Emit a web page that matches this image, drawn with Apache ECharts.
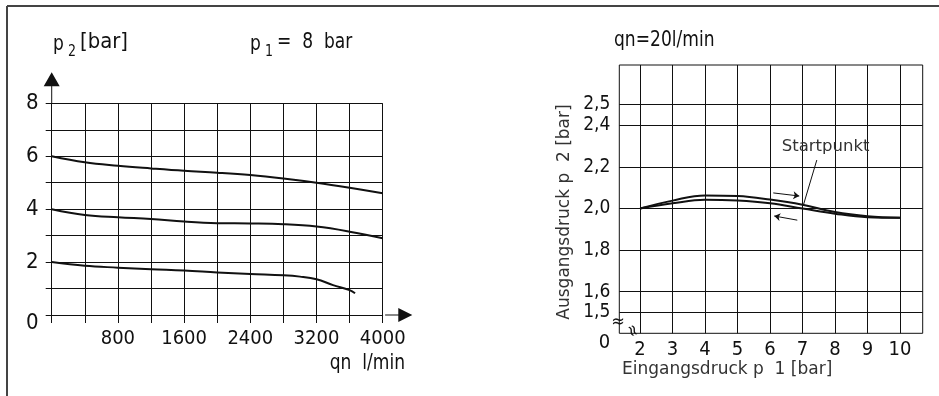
<!DOCTYPE html>
<html>
<head>
<meta charset="utf-8">
<script src="https://cdn.jsdelivr.net/npm/echarts@6/dist/echarts.min.js"></script>
<style>
  html, body { margin: 0; padding: 0; background: #fff; }
  #chart { width: 939px; height: 396px; }
</style>
</head>
<body>
<div id="chart"></div>
<script>
// left: p2 over flow at p1 = 8 bar
const qn = [0, 400, 800, 1200, 1600, 2000, 2400, 2800, 3200, 3600, 4000];
const p2Upper = [6.0, 5.77, 5.64, 5.54, 5.45, 5.38, 5.29, 5.16, 5.0, 4.81, 4.6];
const p2Middle = [4.0, 3.78, 3.69, 3.63, 3.53, 3.47, 3.46, 3.43, 3.34, 3.15, 2.9];
const qnLower = [0, 400, 800, 1200, 1600, 2000, 2400, 2800, 3000, 3200, 3400, 3600, 3666];
const p2Lower = [2.0, 1.86, 1.79, 1.73, 1.68, 1.61, 1.55, 1.5, 1.45, 1.35, 1.13, 0.94, 0.82];

// right: p2 over p1 at qn = 20 l/min
const p1 = [2, 3, 4, 5, 6, 7, 8, 9, 10];
const p2Rise = [2.0, 2.038, 2.063, 2.06, 2.043, 2.018, 1.983, 1.963, 1.955];
const p2Fall = [2.0, 2.025, 2.042, 2.038, 2.025, 2.0, 1.975, 1.958, 1.955];
const p1Ticks = [2, 3, 4, 5, 6, 7, 8, 9, 10];
const p2Ticks = [1.5, 1.6, 1.8, 2.0, 2.2, 2.4, 2.5];

// annotations (data space of right chart)
const riseArrow = [[6.1, 2.075], [6.9, 2.06]];
const fallArrow = [[6.84, 1.944], [6.13, 1.964]];
const startLeader = [[7.44, 2.233], [7.02, 2.013]];
const startLabelAt = [7.71, 2.297];

const narrow = "'DejaVu Sans Condensed', 'Liberation Sans Narrow', sans-serif";
const wide = "'DejaVu Sans', Verdana, sans-serif";
const ink = '#111';

const xs = (a, b) => a.map((v, i) => [v, b[i]]);
const line = (x, y, xi, yi) => ({
    type: 'line', data: xs(x, y), xAxisIndex: xi, yAxisIndex: yi,
    smooth: 0.4, symbol: 'none', lineStyle: { color: ink, width: 2 }, silent: true
});
const split = { show: true, lineStyle: { color: ink, width: 1, type: 'solid' } };
const txt = (x, y, text, size, align, sx) => ({
    type: 'text', x, y, scaleY: 1.12, scaleX: sx || 1,
    style: { text, font: size + 'px ' + narrow, fill: ink, align: align || 'left', verticalAlign: 'middle' }
});

const chart = echarts.init(document.getElementById('chart'));
const option = {
    animation: false,
    grid: [
        { left: 51.7, right: 556.3, top: 103.3, bottom: 81 },
        { left: 619.3, right: 16.3, top: 65, bottom: 62.7, show: true, borderColor: ink, borderWidth: 1 }
    ],
    xAxis: [
        {
            gridIndex: 0, type: 'value', min: 0, max: 4000, interval: 400,
            axisLine: {
                lineStyle: { color: ink, width: 1 },
                symbol: ['none', 'path://M0,17 L8.5,0 L17,17 Z M8,17 L9,17 L9,33 L8,33 Z'],
                symbolSize: [14, 33], symbolOffset: [0, 16]
            },
            axisTick: { show: true, length: 8, lineStyle: { color: ink } },
            axisLabel: {
                color: ink, fontFamily: narrow, fontSize: 20, margin: 14,
                formatter: v => (v > 0 && v % 800 === 0) ? String(v) : ''
            },
            splitLine: split
        },
        {
            gridIndex: 0, type: 'value', min: 0, max: 4000, interval: 400, position: 'top',
            axisLine: { show: false }, axisLabel: { show: false }, splitLine: { show: false },
            axisTick: { show: true, length: 8, lineStyle: { color: ink } }
        },
        {
            gridIndex: 1, type: 'value', min: 1.36, max: 10.7,
            axisLine: { show: false },
            axisTick: { show: false, customValues: p1Ticks },
            axisLabel: { customValues: p1Ticks, color: ink, fontFamily: narrow, fontSize: 20, margin: 6 },
            splitLine: split
        }
    ],
    yAxis: [
        {
            gridIndex: 0, type: 'value', min: 0, max: 8, interval: 1,
            axisLine: {
                show: true,
                lineStyle: { color: ink, width: 1 },
                symbol: ['none', 'path://M0,14 L8,0 L16,14 Z M7.5,14 L8.5,14 L8.5,31 L7.5,31 Z'],
                symbolSize: [16, 31], symbolOffset: [0, 15.5]
            },
            axisTick: { show: true, length: 6, lineStyle: { color: ink } },
            axisLabel: {
                color: ink, fontFamily: narrow, fontSize: 22, margin: 13,
                formatter: v => v === 0 ? '{z|0}' : (v % 2 === 0 ? String(v) : ''),
                rich: { z: { fontFamily: narrow, fontSize: 22, color: ink, padding: [16, 0, 0, 0] } }
            },
            splitLine: split
        },
        {
            gridIndex: 0, type: 'value', min: 0, max: 8, interval: 1, position: 'right',
            axisLine: { show: false }, axisLabel: { show: false }, splitLine: { show: false },
            axisTick: { show: true, length: 5, lineStyle: { color: ink } }
        },
        {
            gridIndex: 1, type: 'value', min: 1.4, max: 2.69,
            axisLine: { show: false },
            axisTick: { show: false, customValues: p2Ticks },
            axisLabel: {
                customValues: [1.4].concat(p2Ticks), color: ink, fontFamily: narrow, fontSize: 19, margin: 9,
                formatter: v => Math.abs(v - 1.4) < 1e-6 ? '{z|0}' : v.toFixed(1).replace('.', ','),
                rich: { z: { fontFamily: narrow, fontSize: 20, color: ink, padding: [18, 0, 0, 0] } }
            },
            splitLine: split
        }
    ],
    series: [
        line(qn, p2Upper, 0, 0),
        line(qn, p2Middle, 0, 0),
        line(qnLower, p2Lower, 0, 0),
        line(p1, p2Fall, 2, 2),
        Object.assign(line(p1, p2Rise, 2, 2), {
            markLine: {
                silent: true, animation: false, label: { show: false },
                lineStyle: { color: ink, width: 1, type: 'solid' },
                data: [
                    [{ coord: riseArrow[0], symbol: 'none' }, { coord: riseArrow[1], symbol: 'arrow', symbolSize: 6 }],
                    [{ coord: fallArrow[0], symbol: 'none' }, { coord: fallArrow[1], symbol: 'arrow', symbolSize: 6 }],
                    [{ coord: startLeader[0], symbol: 'none' }, { coord: startLeader[1], symbol: 'none' }]
                ]
            },
            markPoint: {
                silent: true, symbol: 'circle', symbolSize: 0,
                label: { show: true, formatter: 'Startpunkt', color: '#333', fontFamily: wide, fontSize: 16.5 },
                data: [{ coord: startLabelAt }]
            }
        })
    ],
    graphic: [
        { type: 'line', shape: { x1: 7, y1: 6, x2: 939, y2: 6 }, style: { stroke: '#444', lineWidth: 2 } },
        { type: 'line', shape: { x1: 7, y1: 6, x2: 7, y2: 396 }, style: { stroke: '#444', lineWidth: 2 } },
        txt(53, 44, 'p', 19),
        txt(68, 52, '2', 14),
        txt(80, 42, '[bar]', 19, 'left', 1.15),
        txt(250, 44, 'p', 19),
        txt(265, 52, '1', 14),
        txt(277, 42, '=  8  bar', 19),
        txt(405, 363, 'qn  l/min', 19, 'right'),
        txt(614, 40, 'qn=20l/min', 19),
        { type: 'text', x: 622, y: 370, style: { text: 'Eingangsdruck p  1 [bar]', font: '17px ' + wide, fill: '#333', verticalAlign: 'middle' } },
        { type: 'text', x: 565, y: 212, rotation: Math.PI / 2, style: { text: 'Ausgangsdruck p  2 [bar]', font: '17px ' + wide, fill: '#333', align: 'center', verticalAlign: 'middle' } },
        { type: 'text', x: 618, y: 322, style: { text: '≈', font: '18px ' + narrow, fill: ink, align: 'center', verticalAlign: 'middle' } },
        { type: 'text', x: 632, y: 331, rotation: -Math.PI / 2.6, style: { text: '≈', font: '17px ' + narrow, fill: ink, align: 'center', verticalAlign: 'middle' } }
    ]
};
chart.setOption(option);
</script>
</body>
</html>
